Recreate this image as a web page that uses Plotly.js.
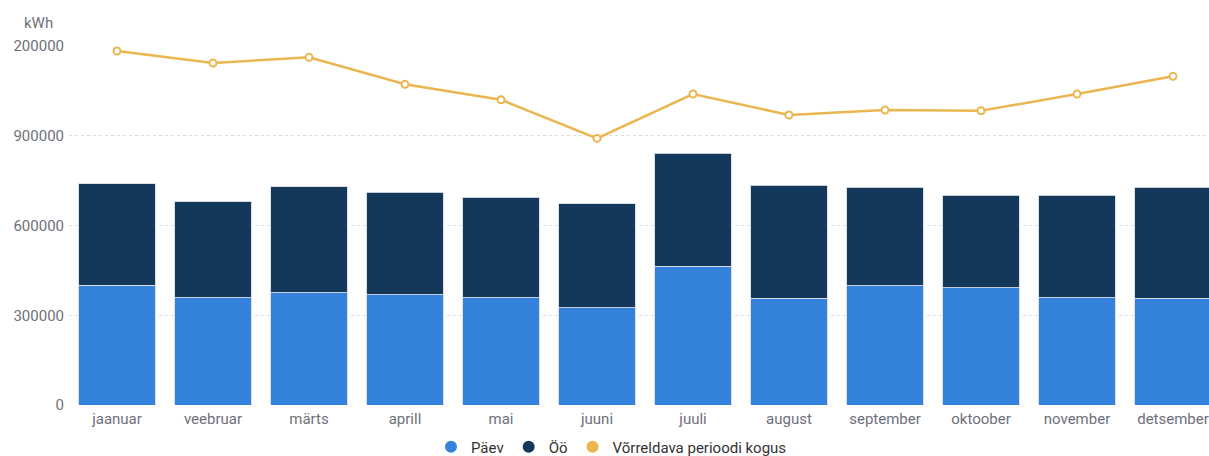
<!DOCTYPE html>
<html>
<head>
<meta charset="utf-8">
<script src="https://cdn.plot.ly/plotly-3.0.1.min.js"></script>
<style>
html, body { margin: 0; padding: 0; overflow: hidden; background: #fff; }
#chart { width: 1222px; height: 456px; }
</style>
</head>
<body>
<div id="chart"></div>
<script>
const months = ['jaanuar','veebruar','märts','aprill','mai','juuni','juuli','august','september','oktoober','november','detsember'];
const paev = [400400, 358000, 374700, 369300, 359300, 325800, 463000, 357000, 398100, 391400, 359300, 357000];
const oo = [338900, 321100, 354600, 342300, 334500, 346600, 379000, 377000, 329200, 310100, 341200, 370300];
const vorreldav = [1183300, 1143100, 1162200, 1071900, 1020400, 891200, 1039400, 969200, 985900, 983600, 1039400, 1098600];
const yTickVals = [0, 300000, 600000, 900000, 1200000];
const yTickText = ['0', '300000', '600000', '900000', '200000'];
const seriesNames = ['Päev', 'Öö', 'Võrreldava perioodi kogus'];
const colors = ['#3582DC', '#14385A', '#EBB64F'];

const barLine = { color: 'rgba(215,222,232,0.9)', width: 1 };
const traces = [
  { type: 'bar', x: months, y: paev, name: seriesNames[0], marker: { color: colors[0], line: barLine }, showlegend: false },
  { type: 'bar', x: months, y: oo, name: seriesNames[1], marker: { color: colors[1], line: barLine }, showlegend: false },
  { type: 'scatter', mode: 'lines+markers', x: months, y: vorreldav, name: seriesNames[2],
    line: { color: colors[2], width: 2.5 },
    marker: { symbol: 'circle', size: 7, color: '#ffffff', line: { color: colors[2], width: 2 } }, showlegend: false }
];
// legend entries (circle symbols)
seriesNames.forEach((n, i) => {
  traces.push({ type: 'scatter', mode: 'markers', x: [null], y: [null], name: n,
    marker: { symbol: 'circle', size: 12, color: colors[i] }, showlegend: true, hoverinfo: 'skip' });
});

const layout = {
  width: 1222, height: 456,
  margin: { l: 69, r: 1, t: 46, b: 51, autoexpand: false },
  paper_bgcolor: '#ffffff', plot_bgcolor: '#ffffff',
  font: { family: 'Roboto, sans-serif', size: 15, color: '#6E7079' },
  barmode: 'stack', bargap: 0.2,
  showlegend: true,
  legend: { orientation: 'h', xref: 'container', yref: 'container', x: 0.5004, xanchor: 'center',
            y: 0.0197, yanchor: 'middle',
            font: { size: 15, color: '#333333' }, itemwidth: 30, traceorder: 'normal' },
  xaxis: { type: 'category', range: [-0.5, months.length - 0.5], showgrid: false, zeroline: false, showline: false,
           ticks: '', ticklabelstandoff: 3, automargin: false, tickfont: { size: 15, color: '#6E7079' }, fixedrange: true },
  yaxis: { range: [0, 1200000], tickvals: yTickVals, ticktext: yTickText, showgrid: true, automargin: false,
           gridcolor: '#dcdcdc', griddash: 'dot', gridwidth: 1, zeroline: false, showline: false,
           ticks: '', ticklabelstandoff: 4, tickfont: { size: 15, color: '#6E7079' }, fixedrange: true },
  annotations: [
    { text: 'kWh', xref: 'paper', yref: 'paper', x: -0.012, y: 1.0, xanchor: 'right', yanchor: 'bottom',
      yshift: 12, showarrow: false, font: { size: 15, color: '#6E7079' } }
  ]
};
Plotly.newPlot('chart', traces, layout, { displayModeBar: false, staticPlot: true });
</script>
</body>
</html>
